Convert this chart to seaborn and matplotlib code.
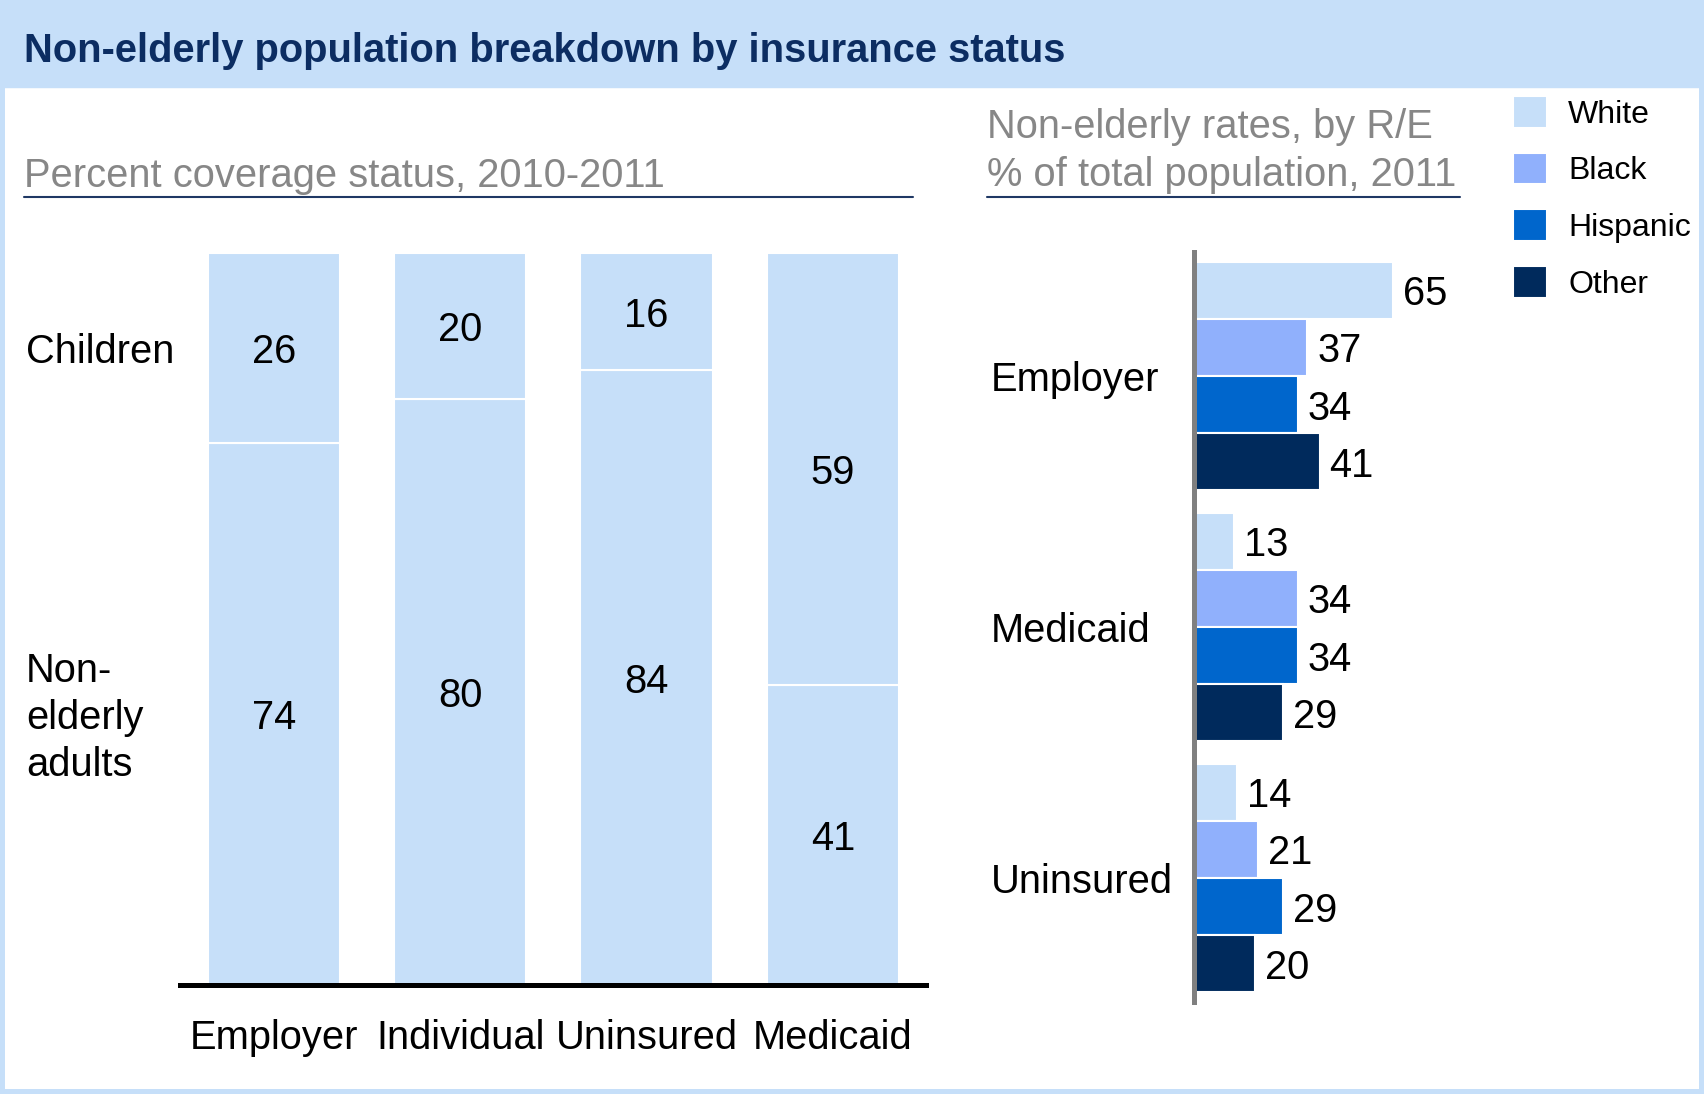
import numpy as np
import pandas as pd
import matplotlib.pyplot as plt
import seaborn as sns
from matplotlib.patches import Rectangle
from matplotlib.lines import Line2D

# dados - painel esquerdo (% por tipo de cobertura)
coverage_types = ['Employer', 'Individual', 'Uninsured', 'Medicaid']
children = [26, 20, 16, 59]
adults = [74, 80, 84, 41]

# dados - painel direito (taxas por raça/etnia)
groups = ['Employer', 'Medicaid', 'Uninsured']
races = ['White', 'Black', 'Hispanic', 'Other']
white = [65, 13, 14]
black = [37, 34, 21]
hispanic = [34, 34, 29]
other = [41, 29, 20]

# cores
light = '#c6dff9'
navy = '#0c2d62'
gray_txt = '#878787'
race_colors = ['#c6dff9', '#90b0fc', '#0066cc', '#002a5c']

sns.set_style('white')
plt.rcParams['font.family'] = ['Liberation Sans', 'DejaVu Sans']
plt.rcParams['text.color'] = 'black'
plt.rcParams['xtick.color'] = 'black'
plt.rcParams['ytick.color'] = 'black'

FS = 28.7  # tamanho do texto principal

W, H = 1704, 1094
fig = plt.figure(figsize=(W / 100, H / 100), dpi=100)

def fx(px):
    return px / W

def fy(py):
    return 1 - py / H

# faixa do título e borda
fig.add_artist(Rectangle((0, fy(87)), 1, 87 / H, transform=fig.transFigure,
                         color=light, zorder=0))
fig.add_artist(Rectangle((0, 0), 1, 1, transform=fig.transFigure, fill=False,
                         edgecolor=light, lw=7.2, zorder=0))
fig.text(fx(24), fy(47), 'Non-elderly population breakdown by insurance status',
         fontsize=28.7, fontweight='bold', color=navy, va='center_baseline',
         ha='left')

# subtítulos
fig.text(fx(24), fy(172), 'Percent coverage status, 2010-2011', fontsize=FS,
         color=gray_txt, va='center_baseline')
fig.text(fx(987), fy(123), 'Non-elderly rates, by R/E', fontsize=FS,
         color=gray_txt, va='center_baseline')
fig.text(fx(987), fy(171), '% of total population, 2011', fontsize=FS,
         color=gray_txt, va='center_baseline')
fig.add_artist(Line2D([fx(24), fx(913)], [fy(197)] * 2, color='#1f3864', lw=1.5))
fig.add_artist(Line2D([fx(987), fx(1460)], [fy(197)] * 2, color='#1f3864', lw=1.5))

# ---------------- painel esquerdo: barras empilhadas
ax1 = fig.add_axes([fx(180), fy(985), fx(926) - fx(180), (985 - 253) / H])
sns.barplot(x=coverage_types, y=adults, color=light, saturation=1, width=0.71,
            edgecolor='white', linewidth=1.5, ax=ax1)
ax1.bar(range(len(coverage_types)), children, bottom=adults, width=0.71,
        color=light, edgecolor='white', linewidth=1.5)
labs = ax1.bar_label(ax1.containers[0], labels=[str(v) for v in adults],
                     label_type='center', fontsize=FS)
labs += ax1.bar_label(ax1.containers[1], labels=[str(v) for v in children],
                      label_type='center', fontsize=FS)
for t in labs:
    t.set_va('center_baseline')
ax1.set_xlim(-0.505, 3.5)
ax1.set_ylim(0, 100)
for s in ['top', 'right', 'left']:
    ax1.spines[s].set_visible(False)
ax1.spines['bottom'].set_color('black')
ax1.spines['bottom'].set_linewidth(3.6)
ax1.set_yticks([])
ax1.tick_params(axis='x', length=0, labelsize=FS, pad=24.5)
ax1.set_xlabel('')
ax1.set_ylabel('')

fig.text(fx(26), fy(348), 'Children', fontsize=FS, va='center_baseline',
         ha='left')
fig.text(fx(26), fy(718), 'Non-\nelderly\nadults', fontsize=FS, va='center',
         ha='left', linespacing=1.3)

# ---------------- painel direito: barras horizontais por raça
df = pd.DataFrame({
    'coverage': groups * 4,
    'race': np.repeat(races, len(groups)),
    'value': white + black + hispanic + other,
})
ax2 = fig.add_axes([fx(1194), fy(1002), fx(1465) - fx(1194), (1002 - 252) / H])
sns.barplot(data=df, x='value', y='coverage', hue='race', hue_order=races,
            palette=race_colors, saturation=1, orient='h', width=0.91,
            edgecolor='white', linewidth=1.5, ax=ax2)
for cont in ax2.containers:
    for t in ax2.bar_label(cont, fmt='%d', padding=7, fontsize=FS):
        t.set_va('center_baseline')
ax2.set_xlim(0, 88.5)
ax2.set_ylim(2.494, -0.494)
for s in ['top', 'right', 'bottom']:
    ax2.spines[s].set_visible(False)
ax2.spines['left'].set_color('#808080')
ax2.spines['left'].set_linewidth(3.6)
ax2.set_xticks([])
ax2.tick_params(axis='y', length=0, labelsize=FS, pad=146)
for lab in ax2.get_yticklabels():
    lab.set_ha('left')
ax2.set_xlabel('')
ax2.set_ylabel('')

handles, labels = ax2.get_legend_handles_labels()
ax2.get_legend().remove()
fig.legend(handles, labels, loc='upper left', bbox_to_anchor=(fx(1513), fy(96)),
           frameon=False, fontsize=23, handlelength=1.05, handleheight=1.15,
           handletextpad=0.68, labelspacing=0.72, borderpad=0, borderaxespad=0)

fig.savefig('out.png', dpi=100)
